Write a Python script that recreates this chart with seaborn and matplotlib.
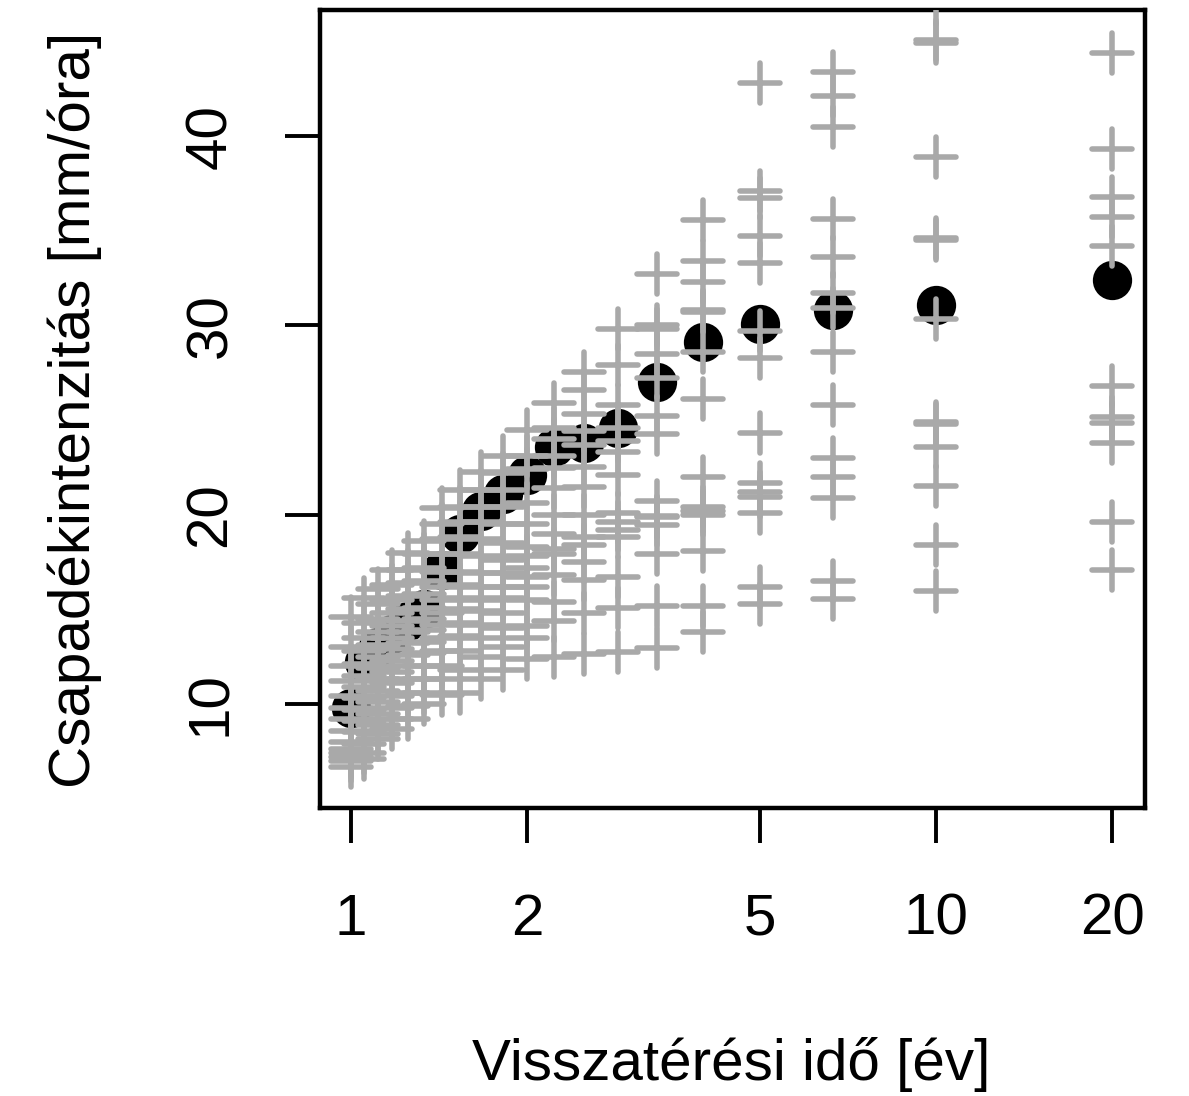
import numpy as np
import pandas as pd
import matplotlib
matplotlib.use("Agg")
import matplotlib.pyplot as plt
import seaborn as sns

# rank m -> return period T = 20 / m
rank = list(range(1, 21))
n_years = 20

# black (observed) series, m = 1..20
observed = [32.4, 31.1, 30.8, 30.1, 29.1, 27.0, 24.6, 23.8, 23.6, 22.1,
            21.1, 20.2, 19.0, 17.1, 15.0, 14.4, 13.7, 13.0, 12.2, 9.8]

# grey values for each rank (14 values each)
grey_m01 = [58.0, 52.0, 48.0, 44.4, 39.3, 36.8, 35.7, 34.2, 26.8, 25.15, 24.85, 23.8, 19.6, 17.1]
grey_m02 = [49.0, 47.0, 45.1, 44.9, 38.9, 34.6, 34.5, 30.35, 24.9, 24.8, 23.6, 21.5, 18.4, 15.95]
grey_m03 = [43.4, 42.1, 40.5, 35.6, 33.6, 31.7, 30.9, 28.6, 25.8, 23.0, 22.0, 20.9, 16.5, 15.55]
grey_m04 = [42.8, 37.1, 36.75, 34.7, 33.3, 29.7, 28.3, 24.3, 21.7, 21.2, 20.95, 20.1, 16.2, 15.3]
grey_m05 = [35.55, 33.4, 32.3, 30.8, 30.7, 28.6, 26.1, 22.0, 20.4, 20.2, 20.0, 18.1, 15.2, 13.8]
grey_m06 = [32.7, 30.0, 29.8, 28.5, 27.2, 25.2, 24.25, 20.7, 19.95, 19.9, 19.45, 17.9, 15.2, 12.95]
grey_m07 = [29.8, 27.9, 25.8, 24.6, 23.9, 23.3, 22.1, 20.1, 19.6, 19.2, 18.8, 16.7, 15.05, 12.75]
grey_m08 = [27.55, 26.6, 25.3, 24.4, 23.7, 22.5, 21.45, 20.0, 18.84, 18.4, 17.5, 16.55, 14.8, 12.67]
grey_m09 = [25.9, 24.6, 24.0, 23.1, 22.45, 21.4, 20.0, 19.0, 18.2, 17.9, 16.8, 15.4, 14.4, 12.5]
grey_m10 = [24.5, 23.1, 22.4, 20.6, 19.5, 18.3, 17.8, 17.2, 16.7, 16.2, 15.5, 14.1, 13.5, 12.4]
grey_m11 = [23.1, 22.2, 21.3, 20.4, 19.5, 18.5, 17.6, 16.9, 16.2, 15.6, 14.8, 14.0, 13.0, 11.8]
grey_m12 = [22.25, 21.3, 20.4, 19.6, 18.7, 17.8, 16.9, 16.2, 15.5, 14.9, 14.2, 13.5, 12.5, 11.3]
grey_m13 = [21.3, 20.4, 19.6, 18.8, 17.9, 17.0, 16.3, 15.6, 15.0, 14.3, 13.6, 12.8, 11.8, 10.6]
grey_m14 = [20.35, 19.5, 18.7, 17.9, 17.0, 16.2, 15.5, 14.8, 14.2, 13.5, 12.8, 12.0, 11.3, 10.5]
grey_m15 = [18.6, 17.9, 17.2, 16.5, 15.8, 15.1, 14.5, 13.9, 13.3, 12.7, 12.0, 11.3, 10.6, 10.0]
grey_m16 = [18.0, 17.1, 16.4, 15.7, 15.0, 14.4, 13.8, 13.2, 12.6, 12.0, 11.3, 10.6, 9.9, 9.2]
grey_m17 = [17.1, 16.3, 15.5, 14.8, 14.1, 13.5, 12.9, 12.3, 11.7, 11.1, 10.4, 9.8, 9.2, 8.7]
grey_m18 = [16.1, 15.3, 14.5, 13.8, 13.1, 12.5, 11.9, 11.3, 10.7, 10.1, 9.5, 8.9, 8.4, 8.15]
grey_m19 = [15.6, 14.3, 13.5, 12.8, 12.1, 11.5, 10.9, 10.3, 9.7, 9.1, 8.5, 7.9, 7.4, 7.1]
grey_m20 = [14.6, 13.0, 12.0, 11.2, 10.4, 9.8, 9.2, 8.6, 8.0, 7.6, 7.4, 7.2, 7.0, 6.7]

grey_columns = [grey_m01, grey_m02, grey_m03, grey_m04, grey_m05, grey_m06, grey_m07,
                grey_m08, grey_m09, grey_m10, grey_m11, grey_m12, grey_m13, grey_m14,
                grey_m15, grey_m16, grey_m17, grey_m18, grey_m19, grey_m20]

return_period = [n_years / m for m in rank]

df_obs = pd.DataFrame({"T": return_period, "v": observed})
rows = []
for T, vals in zip(return_period, grey_columns):
    for v in vals:
        rows.append((T, v))
df_grey = pd.DataFrame(rows, columns=["T", "v"])

sns.set_theme(style="white")
plt.rcParams['font.family'] = ['Liberation Sans', 'DejaVu Sans']

W, H = 1189, 1096
fig = plt.figure(figsize=(W / 100, H / 100), dpi=100)
ax = fig.add_axes([320 / W, 1 - 808 / H, (1145 - 320) / W, (808 - 10) / H])

sns.scatterplot(data=df_obs, x="T", y="v", ax=ax, color="black", s=800,
                marker="o", linewidth=0, zorder=2, legend=False)
sns.scatterplot(data=df_grey, x="T", y="v", ax=ax, color="#a9a9a9", s=29 ** 2,
                marker="+", linewidth=4.0, zorder=3, legend=False)
for coll in ax.collections:
    coll.set_capstyle("round")

ax.set_xscale("log")
ax.set_xlim(0.885, 22.77)
ax.set_ylim(4.51, 46.66)
ax.set_xticks([1, 2, 5, 10, 20])
ax.set_xticklabels(["1", "2", "5", "10", "20"])
ax.minorticks_off()
ax.set_yticks([10, 20, 30, 40])
ax.set_yticklabels(["10", "20", "30", "40"])

for s in ax.spines.values():
    s.set_visible(True)
    s.set_linewidth(3.2)
    s.set_color("black")

ax.tick_params(axis="both", which="major", length=25, width=2.8, color="black",
               labelsize=42, labelcolor="black", direction="out",
               bottom=True, left=True, top=False, right=False)
ax.tick_params(axis="x", pad=36)
ax.tick_params(axis="y", pad=34, labelrotation=90)
for lab in ax.get_yticklabels():
    lab.set_va("center")
    lab.set_ha("right")

ax.set_xlabel("Visszatérési idő [év]", fontsize=42, color="black")
ax.set_ylabel("Csapadékintenzitás [mm/óra]", fontsize=42, color="black")
ax.xaxis.set_label_coords((731 - 320) / 825, (808 - 1065) / 798)
ax.xaxis.label.set_va("center")
ax.yaxis.set_label_coords((75 - 320) / 825, (808 - 410) / 798)
ax.yaxis.label.set_va("center")
ax.grid(False)

fig.savefig("out.png", dpi=100, facecolor="white")
